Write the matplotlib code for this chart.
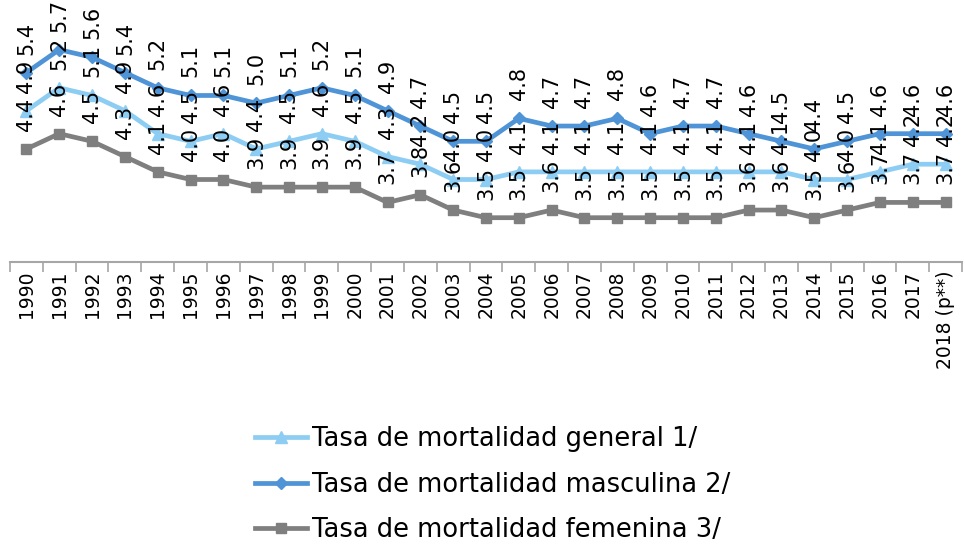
import matplotlib
matplotlib.use("Agg")
import matplotlib.pyplot as plt

years = ["1990", "1991", "1992", "1993", "1994", "1995", "1996", "1997", "1998", "1999",
         "2000", "2001", "2002", "2003", "2004", "2005", "2006", "2007", "2008", "2009",
         "2010", "2011", "2012", "2013", "2014", "2015", "2016", "2017", "2018 (p**)"]

general = [4.9, 5.2, 5.1, 4.9, 4.6, 4.5, 4.6, 4.4, 4.5, 4.6,
           4.5, 4.3, 4.2, 4.0, 4.0, 4.1, 4.1, 4.1, 4.1, 4.1,
           4.1, 4.1, 4.1, 4.1, 4.0, 4.0, 4.1, 4.2, 4.2]
masculina = [5.4, 5.7, 5.6, 5.4, 5.2, 5.1, 5.1, 5.0, 5.1, 5.2,
             5.1, 4.9, 4.7, 4.5, 4.5, 4.8, 4.7, 4.7, 4.8, 4.6,
             4.7, 4.7, 4.6, 4.5, 4.4, 4.5, 4.6, 4.6, 4.6]
femenina = [4.4, 4.6, 4.5, 4.3, 4.1, 4.0, 4.0, 3.9, 3.9, 3.9,
            3.9, 3.7, 3.8, 3.6, 3.5, 3.5, 3.6, 3.5, 3.5, 3.5,
            3.5, 3.5, 3.6, 3.6, 3.5, 3.6, 3.7, 3.7, 3.7]

labels = ["Tasa de mortalidad general 1/",
          "Tasa de mortalidad masculina 2/",
          "Tasa de mortalidad femenina 3/"]

plt.rcParams['font.family'] = ['DejaVu Sans']

fig = plt.figure(figsize=(9.65, 5.46), dpi=100)
ax = fig.add_axes([10 / 965, 1 - 262 / 546, 952 / 965, 262 / 546])

x = list(range(len(years)))

series = [
    (general, "#8DCDF3", "^", 8),
    (masculina, "#4F94D6", "D", 6),
    (femenina, "#7F7F7F", "s", 7),
]
for (vals, col, mk, ms), lab in zip(series, labels):
    ax.plot(x, vals, color=col, lw=3.4, marker=mk, markersize=ms, label=lab)

# value labels (rotated, above each point)
for vals in [femenina, general, masculina]:
    for xi, v in zip(x, vals):
        ax.annotate(f"{v:.1f}", (xi, v), xytext=(0, 13), textcoords="offset points",
                    rotation=90, ha="center", va="bottom", fontsize=15, color="black")

ax.set_xlim(-0.5, len(years) - 0.5)
ax.set_ylim(2.92, 6.35)

for s in ["top", "right", "left"]:
    ax.spines[s].set_visible(False)
ax.spines["bottom"].set_color("#A6A6A6")
ax.spines["bottom"].set_linewidth(1.5)
ax.set_yticks([])

ax.set_xticks([i - 0.5 for i in range(len(years) + 1)])
ax.set_xticklabels([])
ax.tick_params(axis="x", which="major", length=7, width=1.2, color="#A6A6A6")
ax.set_xticks(x, minor=True)
ax.set_xticklabels(years, minor=True, rotation=90, fontsize=13.5)
ax.tick_params(axis="x", which="minor", length=0, pad=6)

fig.legend(loc="upper left", bbox_to_anchor=(245 / 965, 1 - 416 / 546), frameon=False,
           fontsize=18.5, handlelength=2.0, handletextpad=0.2, labelspacing=0.75,
           borderaxespad=0)

fig.savefig("out.png", dpi=100)
